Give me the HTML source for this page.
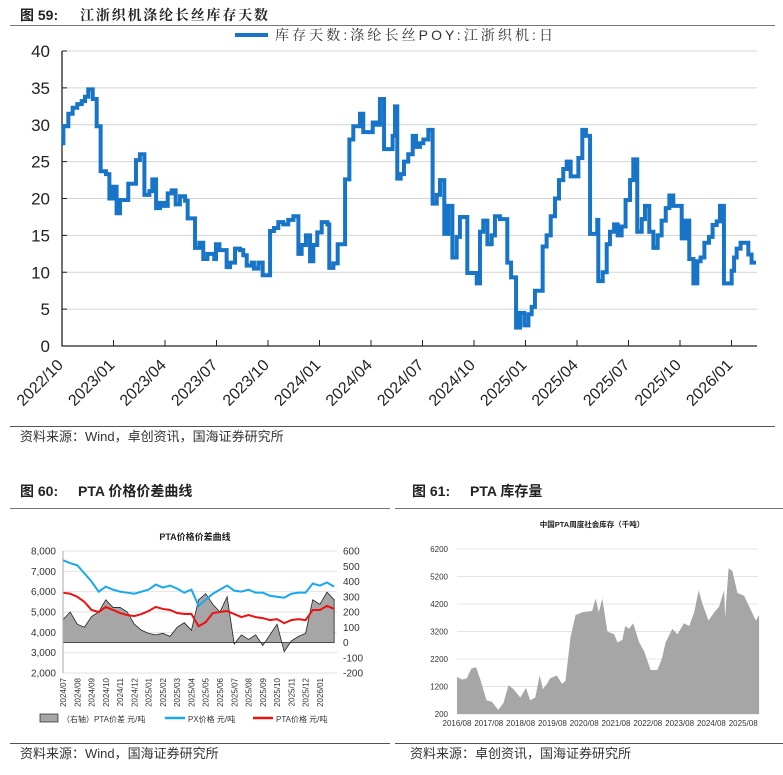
<!DOCTYPE html>
<html><head><meta charset="utf-8">
<style>
body{margin:0;background:#fff;}
svg{display:block;font-family:"Liberation Sans","Noto Sans CJK SC",sans-serif;}
</style></head>
<body>
<svg id="s" width="783" height="775" viewBox="0 0 783 775" xmlns="http://www.w3.org/2000/svg">
<g>
<text x="20" y="20" font-size="14" font-weight="bold" fill="#222">图 59:</text>
<text x="80" y="20" font-size="14" font-weight="bold" fill="#222" textLength="188" lengthAdjust="spacing" font-family="'Liberation Sans','Noto Serif CJK SC',serif">江浙织机涤纶长丝库存天数</text>
<line x1="10" y1="25.5" x2="775" y2="25.5" stroke="#777" stroke-width="1"/>
</g>
<g>
<line x1="235" y1="35" x2="268" y2="35" stroke="#1874c6" stroke-width="4"/>
<text x="275" y="40" font-size="14" fill="#333" textLength="278" lengthAdjust="spacing" font-family="'Liberation Sans','Noto Serif CJK SC',serif">库存天数:涤纶长丝POY:江浙织机:日</text>
</g>
<g id="c1"></g>
<g>
<line x1="10" y1="426.5" x2="775" y2="426.5" stroke="#555" stroke-width="1"/>
<text x="20" y="441" font-size="13" fill="#333">资料来源：Wind，卓创资讯，国海证券研究所</text>
</g>

<g>
<text x="20" y="496" font-size="14" font-weight="bold" fill="#222">图 60:</text>
<text x="78" y="496" font-size="14" font-weight="bold" fill="#222">PTA 价格价差曲线</text>
<line x1="10" y1="508.5" x2="390" y2="508.5" stroke="#777"/>
</g>
<g id="c2"></g>
<g>
<line x1="10" y1="743.5" x2="390" y2="743.5" stroke="#555"/>
<text x="20" y="758" font-size="13" fill="#333">资料来源：Wind，国海证券研究所</text>
</g>

<g>
<text x="412" y="496" font-size="14" font-weight="bold" fill="#222">图 61:</text>
<text x="470" y="496" font-size="14" font-weight="bold" fill="#222">PTA 库存量</text>
<line x1="395" y1="508.5" x2="783" y2="508.5" stroke="#777"/>
</g>
<g id="c3"></g>
<g>
<line x1="395" y1="743.5" x2="783" y2="743.5" stroke="#555"/>
<text x="410" y="758" font-size="13" fill="#333">资料来源：卓创资讯，国海证券研究所</text>
</g>
</svg>
<script>
// ---- Fig 59 data ----
const invTickLabels = ["2022/10","2023/01","2023/04","2023/07","2023/10","2024/01","2024/04","2024/07","2024/10","2025/01","2025/04","2025/07","2025/10","2026/01"];
const invYTicks = [0,5,10,15,20,25,30,35,40];
const invMonths = [0,0.08,0.37,0.62,0.89,1.15,1.34,1.53,1.79,2.02,2.25,2.56,2.76,2.99,3.18,3.38,3.86,4.31,4.54,4.80,5.09,5.26,5.48,5.71,5.94,6.16,6.39,6.62,6.87,7.17,7.32,7.75,8.0,8.23,8.47,8.87,8.97,9.17,9.59,9.79,10.08,10.37,10.56,10.76,11.05,11.18,11.44,11.69,12.12,12.35,12.6,12.89,13.18,13.48,13.77,13.96,14.21,14.45,14.64,14.87,15.13,15.46,15.57,15.81,16.06,16.49,16.74,16.97,17.36,17.55,18.1,18.33,18.52,18.76,19.26,19.4,19.53,19.73,19.92,20.17,20.43,20.62,20.85,21.05,21.34,21.59,21.83,22.02,22.27,22.5,22.74,22.99,23.18,23.61,24.16,24.35,24.54,24.78,25.03,25.22,25.51,25.94,26.16,26.45,26.68,26.93,27.17,27.36,27.55,28.0,28.23,28.47,28.72,28.95,29.2,29.4,29.63,30.08,30.31,30.52,30.76,31.18,31.24,31.5,31.73,31.92,32.16,32.37,32.6,32.83,33.09,33.28,33.51,33.77,33.96,34.21,34.45,34.7,34.93,35.17,35.38,35.61,36.1,36.33,36.54,36.78,37.01,37.2,37.42,37.69,37.9,38.14,38.33,38.56,39.01,39.15,39.3,39.53,39.98,40.17,40.43];
const invDays = [27.5,29.8,31.5,32.3,32.8,33.2,33.8,34.8,33.5,29.8,23.7,23.3,20,21.6,18,19.8,22,25.2,26,20.5,21,22.6,18.7,19.4,19,20.7,21.1,19.2,20.3,19.7,17.3,13.3,14,11.8,12.5,11.8,13.8,13,10.7,11.3,13.2,13,12.3,10.9,11.3,10.5,11.3,9.6,15.6,16,16.8,16.5,17.1,17.6,12.5,13.7,15,11.5,13.7,15.4,16.8,16.5,10.6,11.2,13.8,22.6,28,29.8,31.5,29,30.3,30,33.5,26.7,28.5,32.5,22.7,23.3,25,26,28.5,27,27.5,28,29.3,19.3,20.5,22.5,15.2,19,12,14.8,17.5,9.9,8.5,15.5,17,13.8,15,17.6,17.2,11.3,9.3,2.5,4.5,2.8,4.3,5.3,7.5,13.5,15,17.6,20,22.5,24,25,23,25.5,29.3,28.5,15.2,17.1,8.8,10,13.8,15.5,16.5,15,16.2,19.8,22.5,25.3,15.5,17.2,19,15.5,13.3,15,17,18.7,20.4,19,14.6,17,11.8,8.5,11.5,12,14,14.8,16.4,16.9,19,8.5,10.2,12,13.2,14,12.4,11.3,11.3];

// ---- Fig 60 data ----
const ptaMonths = ["2024/07","2024/08","2024/09","2024/10","2024/11","2024/12","2025/01","2025/02","2025/03","2025/04","2025/05","2025/06","2025/07","2025/08","2025/09","2025/10","2025/11","2025/12","2026/01"];
const ptaLeftTicks = [2000,3000,4000,5000,6000,7000,8000];
const ptaRightTicks = [-200,-100,0,100,200,300,400,500,600];
const pxPrice = [7550,7400,7300,6900,6500,6000,6250,6100,6000,5950,5900,6000,6100,6350,6200,6300,6150,5950,6100,5300,5600,5900,6100,6300,6050,6000,6100,5950,5950,5800,5750,5700,5900,5950,5950,6400,6300,6450,6250];
const ptaPrice = [5950,5900,5750,5500,5100,5000,5250,5100,4950,4850,4800,4900,5050,5250,5150,5100,4950,4900,4900,4300,4500,4950,5000,5050,4900,4750,4850,4750,4700,4600,4650,4450,4600,4650,4600,5100,5100,5300,5150];
const ptaSpread = [150,200,120,100,170,200,280,230,230,200,120,80,60,50,60,40,100,130,80,280,320,250,200,300,-10,50,20,50,-20,50,120,-60,10,40,60,280,250,330,280];

// ---- Fig 61 data ----
const stockYearLabels = ["2016/08","2017/08","2018/08","2019/08","2020/08","2021/08","2022/08","2023/08","2024/08","2025/08"];
const stockYTicks = [200,1200,2200,3200,4200,5200,6200];
const stockYears = [0,0.16,0.31,0.45,0.6,0.72,0.93,1.09,1.3,1.46,1.62,1.78,1.99,2.17,2.3,2.46,2.6,2.7,2.83,2.93,3.14,3.3,3.41,3.57,3.73,3.94,4.25,4.36,4.46,4.57,4.73,4.94,5.05,5.2,5.29,5.41,5.54,5.73,5.88,6.09,6.3,6.44,6.56,6.77,6.93,7.14,7.3,7.46,7.6,7.72,7.91,8.09,8.24,8.4,8.43,8.54,8.66,8.82,9.03,9.19,9.4,9.5];
const stockValues = [1550,1450,1500,1850,1900,1500,700,650,350,600,1250,1100,800,1150,700,800,1600,1100,1300,1500,1600,1300,1400,3000,3800,3900,3950,4400,3900,4400,3200,3100,2800,2900,3400,3300,3500,2800,2500,1800,1800,2200,2800,3300,3100,3500,3400,3900,4700,4200,3600,3900,4100,4700,3700,5500,5400,4600,4500,4100,3600,3800];

const NS="http://www.w3.org/2000/svg";
function mk(parent,tag,attrs,txt){const e=document.createElementNS(NS,tag);for(const k in attrs)e.setAttribute(k,attrs[k]);if(txt!==undefined)e.textContent=txt;parent.appendChild(e);return e;}

// ===== Chart 1 =====
(function(){
const g=document.getElementById('c1');
const X0=62,Y0=346,YT=51,XPM=51.5/3;
const xs=m=>X0+m*XPM, ys=v=>Y0-(v/40)*(Y0-YT);
invYTicks.forEach(v=>{
  if(v>0){const l=mk(g,'line',{x1:X0,x2:757,y1:ys(v),y2:ys(v),stroke:'#d4d4d4','stroke-width':1});
  }
  const t=mk(g,'text',{x:50,y:ys(v)+6,'font-size':17,'text-anchor':'end',fill:'#222'},String(v));
  
  const tk=mk(g,'line',{x1:X0,x2:X0+5,y1:ys(v),y2:ys(v),stroke:'#222'});
  
});
const ax=mk(g,'path',{d:`M${X0} ${YT}V${Y0}H757`,stroke:'#222','stroke-width':1.3,fill:'none'});

invTickLabels.forEach((lab,i)=>{
  const x=xs(i*3);
  if(i>0){const tk=mk(g,'line',{x1:x,x2:x,y1:Y0,y2:Y0-6,stroke:'#222'});
  }
  const t=mk(g,'text',{x:x+2,y:366,'font-size':16,'text-anchor':'end',fill:'#222',transform:`rotate(-45 ${x+2} 366)`},lab);
  
});
let d=`M${xs(invMonths[0])} ${ys(invDays[0])}`;
for(let i=1;i<invMonths.length;i++){d+=`H${xs(invMonths[i])}V${ys(invDays[i])}`;}
const p=mk(g,'path',{d:d,stroke:'#1874c6','stroke-width':4,fill:'none','stroke-linejoin':'miter'});

})();

// ===== Chart 2 =====
(function(){
const g=document.getElementById('c2');
const X0=63,X1=337,YT=551,YB=673;
const yl=v=>YB-(v-2000)/6000*(YB-YT);
const yr=v=>YB-(v+200)/800*(YB-YT);
const step=(X1-X0)/ (pxPrice.length-0.6);
const xi=i=>X0+i*step;
const t0=mk(g,'text',{x:195,y:540,'font-size':9,'font-weight':'bold','text-anchor':'middle',fill:'#222'},'PTA价格价差曲线');

ptaLeftTicks.forEach(v=>{
  const l=mk(g,'line',{x1:X0,x2:X1,y1:yl(v),y2:yl(v),stroke:'#e2e2e2'});
  
  const t=mk(g,'text',{x:56,y:yl(v)+3.5,'font-size':10,'text-anchor':'end',fill:'#333'},v.toLocaleString('en-US'));
  
});
ptaRightTicks.forEach(v=>{
  const t=mk(g,'text',{x:343,y:yr(v)+3.5,'font-size':10,fill:'#333'},String(v));
  
});
let d=`M${xi(0)} ${yr(0)}`;
ptaSpread.forEach((v,i)=>{d+=`L${xi(i)} ${yr(v)}`;});
d+=`L${xi(ptaSpread.length-1)} ${yr(0)}Z`;
const a=mk(g,'path',{d:d,fill:'#a6a6a6',stroke:'#222','stroke-width':0.8});

const ln=(arr,col,name)=>{const pth=mk(g,'path',{d:'M'+arr.map((v,i)=>xi(i)+' '+yl(v)).join('L'),stroke:col,'stroke-width':2,fill:'none'});
  };
ln(pxPrice,'#18a8ec','px-price-line');
ln(ptaPrice,'#ee1111','pta-price-line');
const ax=mk(g,'line',{x1:X0,x2:X0,y1:YT,y2:YB,stroke:'#aaa'});

ptaMonths.forEach((lab,i)=>{
  const x=X0+i*2*step+3;
  const t=mk(g,'text',{x:x,y:678,'font-size':8,'text-anchor':'end',fill:'#333',transform:`rotate(-90 ${x} 678)`},lab);
  
});
const lg=mk(g,'g',{});

const r=mk(lg,'rect',{x:40,y:714,width:18,height:8,fill:'#a6a6a6',stroke:'#222','stroke-width':0.7});

const l1=mk(lg,'text',{x:62,y:722,'font-size':8,fill:'#333'},'（右轴）PTA价差 元/吨');

const s2=mk(lg,'line',{x1:165,x2:185,y1:718,y2:718,stroke:'#18a8ec','stroke-width':2.5});

const l2=mk(lg,'text',{x:188,y:722,'font-size':8,fill:'#333'},'PX价格 元/吨');

const s3=mk(lg,'line',{x1:253,x2:273,y1:718,y2:718,stroke:'#ee1111','stroke-width':2.5});

const l3=mk(lg,'text',{x:276,y:722,'font-size':8,fill:'#333'},'PTA价格 元/吨');

})();

// ===== Chart 3 =====
(function(){
const g=document.getElementById('c3');
const X0=457,X1=758,YT=549,YB=714,XPY=31.8;
const ys=v=>YB-(v-200)/6000*(YB-YT);
const xs=y=>X0+y*XPY;
const t0=mk(g,'text',{x:592,y:527,'font-size':7.5,'font-weight':'bold','text-anchor':'middle',fill:'#222'},'中国PTA周度社会库存（千吨）');

stockYTicks.forEach(v=>{
  const l=mk(g,'line',{x1:X0,x2:X1,y1:ys(v),y2:ys(v),stroke:'#e4e4e4'});
  
  const t=mk(g,'text',{x:448,y:ys(v)+3,'font-size':8,'text-anchor':'end',fill:'#333'},String(v));
  
});
let d=`M${xs(stockYears[0])} ${ys(200)}`;
stockYears.forEach((y,i)=>{d+=`L${xs(y)} ${ys(stockValues[i])}`;});
d+=`L${xs(stockYears[stockYears.length-1])} ${ys(200)}Z`;
const a=mk(g,'path',{d:d,fill:'#a6a6a6'});

stockYearLabels.forEach((lab,i)=>{
  const t=mk(g,'text',{x:xs(i),y:726,'font-size':8,'text-anchor':'middle',fill:'#333'},lab);
  
});
})();
</script>
</body></html>
